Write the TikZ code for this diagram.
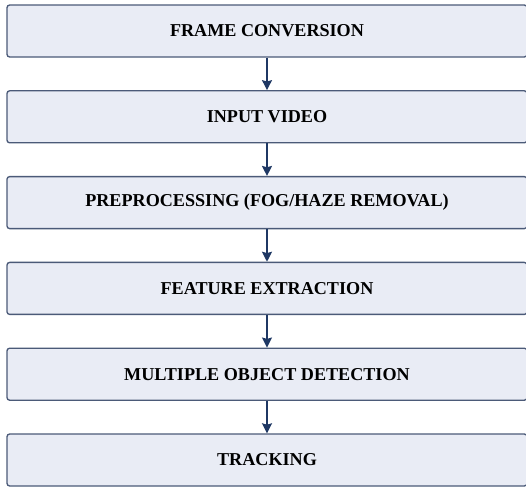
\documentclass[tikz,border=0pt]{standalone}
\usepackage{fontspec}
\setmainfont{Liberation Serif}
\usepackage{tikz}
\usetikzlibrary{arrows.meta,shapes,positioning}
\definecolor{boxfill}{HTML}{E9ECF5}
\definecolor{boxline}{HTML}{4B5A78}
\definecolor{arrowline}{HTML}{1F3864}

\begin{document}
\begin{tikzpicture}[node distance=64.35pt,>={Stealth[length=7.5pt,width=7.5pt,inset=1pt]},auto]
    \tikzstyle{stage}=[rectangle,rounded corners=2pt,line width=1pt,draw=boxline,fill=boxfill,
    minimum width=390pt,minimum height=39pt,font=\fontsize{13.6}{15}\selectfont\bfseries]
    \tikzstyle{flow}=[->,line width=1.1pt,draw=arrowline]

    \useasboundingbox (0,0) rectangle (394.5pt,-365.25pt);

    \node [stage] (frames)    at (200.25pt,-23.25pt) {FRAME CONVERSION};
    \node [stage] (input)     [below of=frames]  {INPUT VIDEO};
    \node [stage] (preproc)   [below of=input]   {PREPROCESSING (FOG/HAZE REMOVAL)};
    \node [stage] (features)  [below of=preproc] {FEATURE EXTRACTION};
    \node [stage] (detection) [below of=features] {MULTIPLE OBJECT DETECTION};
    \node [stage] (tracking)  [below of=detection] {TRACKING};

    \path (frames) edge [flow] (input);
    \path (input) edge [flow] (preproc);
    \path (preproc) edge [flow] (features);
    \path (features) edge [flow] (detection);
    \path (detection) edge [flow] (tracking);

\end{tikzpicture}
\end{document}
